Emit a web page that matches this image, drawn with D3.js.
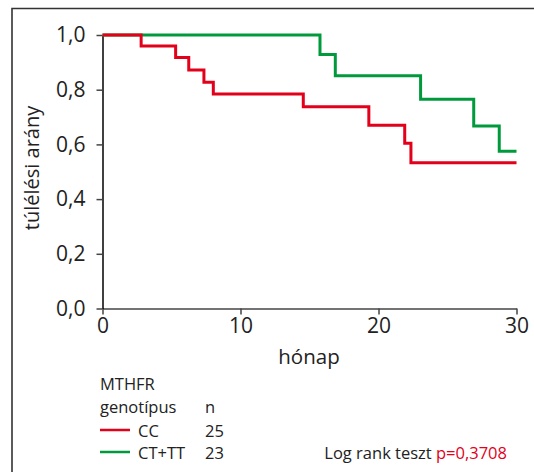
<!DOCTYPE html>
<html><head><meta charset="utf-8">
<script src="https://cdn.jsdelivr.net/npm/d3@7"></script>
<style>body{margin:0;background:#fff}svg{display:block;font-family:"Open Sans",sans-serif}</style>
</head><body><svg id="c" width="534" height="472"></svg>
<script>
const ccTimes = [0, 2.8, 5.3, 6.25, 7.35, 8.03, 14.55, 19.3, 21.9, 22.35, 30];
const ccSurv  = [1, 0.96, 0.918, 0.872, 0.827, 0.784, 0.738, 0.670, 0.604, 0.533, 0.533];
const ctTimes = [0, 15.76, 16.87, 23.05, 26.9, 28.75, 30];
const ctSurv  = [1, 0.929, 0.851, 0.765, 0.667, 0.575, 0.575];
const xTicks = [0, 10, 20, 30];
const yTicks = [0, 0.2, 0.4, 0.6, 0.8, 1.0];
const groups = ["CC", "CT+TT"];
const groupN = [25, 23];
const groupColors = ["#e2001a", "#009a3d"];

const svg = d3.select("#c");
const x = d3.scaleLinear().domain([0, 30]).range([102.5, 516.5]);
const y = d3.scaleLinear().domain([0, 1]).range([308.5, 35]);

// frame
svg.append("path").attr("d", "M12,472V8.5H534").attr("fill", "none").attr("stroke", "#333").attr("stroke-width", 1.6);

const fmt = d => d3.format(".1f")(d).replace(".", ",");

// x axis
const xa = svg.append("g").attr("transform", "translate(0,308.5)")
  .call(d3.axisBottom(x).tickValues(xTicks).tickSize(6).tickSizeOuter(0).tickPadding(4));
xa.select(".domain").attr("stroke", "#444").attr("stroke-width", 1.5);
xa.selectAll(".tick line").attr("stroke", "#444").attr("stroke-width", 1.5);
xa.selectAll("text").attr("font-size", 21).attr("fill", "#222").attr("font-family", "Open Sans");

// y axis
const ya = svg.append("g").attr("transform", "translate(102.5,0)")
  .call(d3.axisLeft(y).tickValues(yTicks).tickFormat(fmt).tickSize(6).tickSizeOuter(0).tickPadding(11));
ya.select(".domain").attr("stroke", "#000").attr("stroke-width", 1.5);
ya.selectAll(".tick line").attr("stroke", "#444").attr("stroke-width", 1.5);
ya.selectAll("text").attr("font-size", 21).attr("fill", "#222").attr("font-family", "Open Sans");

// axis titles
svg.append("text").attr("x", 309).attr("y", 364).attr("text-anchor", "middle")
  .attr("font-size", 20.5).attr("fill", "#222").text("hónap");
svg.append("text").attr("transform", "translate(39,168) rotate(-90)").attr("text-anchor", "middle")
  .attr("font-size", 20).attr("fill", "#222").text("túlélési arány");

// curves
const line = d3.line().x(d => x(d[0])).y(d => y(d[1])).curve(d3.curveStepAfter);
const series = [d3.zip(ccTimes, ccSurv), d3.zip(ctTimes, ctSurv)];
[1, 0].forEach(i => {
  svg.append("path").datum(series[i]).attr("d", line).attr("fill", "none")
    .attr("stroke", groupColors[i]).attr("stroke-width", 3);
});

// legend
const lg = svg.append("g").attr("font-size", 16.5).attr("fill", "#222");
lg.append("text").attr("x", 100).attr("y", 390).text("MTHFR");
lg.append("text").attr("x", 100).attr("y", 413).text("genotípus");
lg.append("text").attr("x", 205).attr("y", 413).text("n");
groups.forEach((g, i) => {
  const yy = 437 + i * 22;
  lg.append("line").attr("x1", 100).attr("x2", 130).attr("y1", yy - 7).attr("y2", yy - 7)
    .attr("stroke", groupColors[i]).attr("stroke-width", 2.5);
  lg.append("text").attr("x", 138).attr("y", yy).text(g);
  lg.append("text").attr("x", 205).attr("y", yy).text(groupN[i]);
});
const lr = lg.append("text").attr("x", 507).attr("y", 459).attr("text-anchor", "end");
lr.append("tspan").text("Log rank teszt ");
lr.append("tspan").attr("fill", "#e2001a").text("p=0,3708");
</script></body></html>
